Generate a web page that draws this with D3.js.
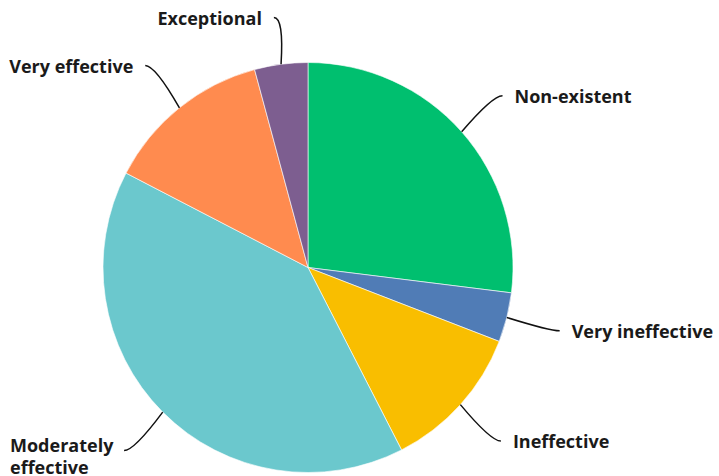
<!DOCTYPE html>
<html><head><meta charset="utf-8">
<script src="https://cdn.jsdelivr.net/npm/d3@7"></script>
<style>body{margin:0;background:#fff}svg{display:block}</style>
</head><body>
<script>
const categories = ["Non-existent","Very ineffective","Ineffective","Moderately effective","Very effective","Exceptional"];
const values = [27.0, 3.9, 11.6, 40.2, 13.2, 4.2];
const colors = ["#00bf6f","#507cb6","#f9be00","#6bc8cd","#ff8b4f","#7d5e90"];
const labelLines = [["Non-existent"],["Very ineffective"],["Ineffective"],["Moderately","effective"],["Very effective"],["Exceptional"]];

const W = 719, H = 476, cx = 308, cy = 267.5, R = 205, RL = 259.5;
const svg = d3.select("body").append("svg").attr("width", W).attr("height", H);
const g = svg.append("g").attr("transform", `translate(${cx},${cy})`);
const data = categories.map((c, i) => ({c, v: values[i], i}));
const pie = d3.pie().value(d => d.v).sort(null);
const arcs = pie(data);
const arc = d3.arc().innerRadius(0).outerRadius(R);
g.selectAll("path.slice").data(arcs).join("path").attr("class","slice")
  .attr("d", arc).attr("fill", d => colors[d.data.i])
  .attr("stroke", "#fff").attr("stroke-width", 0.6);

arcs.forEach(d => {
  const a = (d.startAngle + d.endAngle) / 2;
  const sx = R * Math.sin(a), sy = -R * Math.cos(a);
  let ex = RL * Math.sin(a), ey = -RL * Math.cos(a);
  if (ey < -250) ey = -250;
  const sign = ex >= 0 ? 1 : -1;
  g.append("path")
    .attr("d", `M${sx},${sy} Q${ex - sign*10},${ey} ${ex},${ey}`)
    .attr("fill","none").attr("stroke","#111").attr("stroke-width",1.5);
  const lines = labelLines[d.data.i];
  const t = g.append("text")
    .attr("x", ex + sign*12).attr("y", ey + 1)
    .attr("text-anchor", sign > 0 ? "start" : "end")
    .attr("font-family", "'Open Sans', sans-serif").attr("font-weight", 700)
    .attr("font-size", 18).attr("fill", "#1a1a1a");
  if (lines.length === 1) {
    t.append("tspan").attr("dy","0.35em").text(lines[0]);
  } else {
    t.attr("text-anchor","start");
    lines.forEach((l, k) => t.append("tspan").attr("x", -298).attr("dy", k === 0 ? "0.05em" : "1.2em").text(l));
  }
});
</script>
</body></html>
